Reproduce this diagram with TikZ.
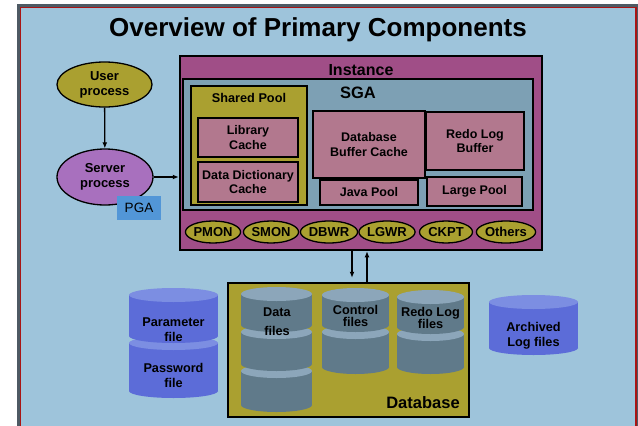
\documentclass[tikz,border=0pt]{standalone}
\usepackage{fontspec}
\setmainfont{Liberation Sans}
\usepackage{xcolor}
\definecolor{Sky}{RGB}{158,196,219}
\definecolor{Frame}{RGB}{78,90,100}
\definecolor{Rim}{RGB}{170,20,20}
\definecolor{Plum}{RGB}{160,78,135}
\definecolor{Slate}{RGB}{125,160,180}
\definecolor{Olive}{RGB}{170,160,48}
\definecolor{Rose}{RGB}{178,120,142}
\definecolor{Lilac}{RGB}{168,112,190}
\definecolor{PgaBlue}{RGB}{82,150,215}
\definecolor{GreyBody}{RGB}{96,122,138}
\definecolor{GreyTop}{RGB}{140,166,186}
\definecolor{BlueBody}{RGB}{92,108,216}
\definecolor{BlueTop}{RGB}{124,142,226}
\usepackage{tikz}
\usetikzlibrary{shapes}
\usetikzlibrary{arrows.meta}
\tikzstyle{Area}=[draw=black,line width=2.5pt,inner sep=0pt]
\tikzstyle{Buffer}=[draw=black,line width=2.2pt,fill=Rose,inner sep=0pt,
align=center,font=\bfseries\fontsize{12.5}{14.5}\selectfont]
\tikzstyle{Proc}=[ellipse,draw=black,line width=1.3pt,fill=Olive,inner sep=0pt,
minimum width=53pt,minimum height=22pt,font=\bfseries\fontsize{13}{14}\selectfont]
\tikzstyle{Client}=[ellipse,draw=black,line width=1.3pt,inner sep=0pt,
align=center,font=\bfseries\fontsize{13}{15}\selectfont]
\tikzstyle{Link}=[draw=black,line width=1.3pt,-{Latex[length=6pt,width=5pt]}]
\tikzstyle{Lbl}=[inner sep=0pt,align=center,font=\bfseries\fontsize{12.7}{15}\selectfont]
\tikzstyle{Big}=[inner sep=0pt,font=\bfseries\fontsize{16.5}{18}\selectfont]
% one segment of a disk stack: centre x, top y, bottom y, half width, colour
\newcommand{\Drum}[5]{%
  \fill[#5Body] (#1,#3-7) ellipse (#4pt and 7pt);
  \fill[#5Body] (#1-#4,#2+7) rectangle (#1+#4,#3-7);
  \fill[#5Top] (#1,#2+7) ellipse (#4pt and 7pt);}

\begin{document}
\begin{tikzpicture}[x=1pt,y=-1pt]
        \useasboundingbox (0,0) rectangle (638,426);
        \fill[Frame] (17,4) rectangle (638,426);
        \fill[Sky] (21,8) rectangle (635.5,426);
        \draw[Rim,line width=1.2pt] (20.6,430) -- (20.6,7.6) -- (636,7.6) -- (636,430);
        \node[inner sep=0pt,anchor=base,font=\bfseries\fontsize{26}{30}\selectfont]
            (title) at (318,36) {Overview of Primary Components};
        % instance and SGA
        \node[Area,fill=Plum,minimum width=362pt,minimum height=194pt]
            (inst) at (361,153) {};
        \node[inner sep=0pt,font=\bfseries\fontsize{16}{18}\selectfont]
            (instlbl) at (361,70) {Instance};
        \node[Area,fill=Slate,minimum width=350pt,minimum height=131pt]
            (sga) at (358,144.5) {};
        \node[Big] (sgalbl) at (358,93) {SGA};
        \node[Area,line width=2pt,fill=Olive,minimum width=116pt,minimum height=119pt]
            (shared) at (249,145.5) {};
        \node[Lbl] (sharedlbl) at (249,98) {Shared Pool};
        \node[Buffer,minimum width=100pt,minimum height=39pt]
            (lib) at (248,137.5) {Library\\Cache};
        \node[Buffer,minimum width=100pt,minimum height=40pt]
            (dict) at (248,182) {Data Dictionary\\Cache};
        \node[Buffer,minimum width=112pt,minimum height=67pt]
            (dbbuf) at (369,144.5) {Database\\Buffer Cache};
        \node[Buffer,minimum width=98pt,minimum height=58pt]
            (redobuf) at (475,141) {Redo Log\\Buffer};
        \node[Buffer,minimum width=98pt,minimum height=25pt]
            (java) at (369,192.5) {Java Pool};
        \node[Buffer,minimum width=95pt,minimum height=29pt]
            (large) at (474.5,191.5) {Large Pool};
        % background processes
        \node[Proc] (pmon) at (213,232) {PMON};
        \node[Proc] (smon) at (271,232) {SMON};
        \node[Proc] (dbwr) at (329,232) {DBWR};
        \node[Proc] (lgwr) at (387,232) {LGWR};
        \node[Proc] (ckpt) at (446,232) {CKPT};
        \node[Proc] (others) at (506,232) {Others};
        % user side
        \node[Client,fill=Olive,minimum width=95pt,minimum height=45pt]
            (user) at (104.5,84.5) {User\\process};
        \node[Client,fill=Lilac,minimum width=96pt,minimum height=56pt]
            (server) at (105,177) {Server\\process};
        \node[fill=PgaBlue,inner sep=0pt,minimum width=44pt,minimum height=24pt,
            font=\fontsize{13.5}{15}\selectfont] (pga) at (139,208) {PGA};
        \draw[Link](user)--(server);
        \draw[Link](server)--(server -| inst.west);
        % database
        \node[Area,fill=Olive,minimum width=241pt,minimum height=134pt]
            (db) at (348.5,350) {};
        \node[Big] (dblbl) at (423,403) {Database};
        \coordinate (rd) at (352,0);
        \coordinate (wr) at (367,0);
        \draw[Link,shorten >=4pt](inst.south -| rd)--(db.north -| rd);
        \draw[Link](db.north -| wr)--(inst.south -| wr);
        \Drum{276.5}{364}{412}{35.5}{Grey}
        \Drum{276.5}{325}{371}{35.5}{Grey}
        \Drum{276.5}{287}{332}{35.5}{Grey}
        \Drum{355.5}{325}{374}{33.5}{Grey}
        \Drum{355.5}{288}{332}{33.5}{Grey}
        \Drum{430.5}{327}{374}{33.5}{Grey}
        \Drum{430.5}{290}{334}{33.5}{Grey}
        \node[Lbl,font=\bfseries\fontsize{12.7}{19}\selectfont]
            (datalbl) at (277,322) {Data\\files};
        \node[Lbl,font=\bfseries\fontsize{12.7}{12.5}\selectfont]
            (ctllbl) at (355.5,316) {Control\\files};
        \node[Lbl,font=\bfseries\fontsize{12.7}{12.5}\selectfont]
            (redolbl) at (430.5,318) {Redo Log\\files};
        % files outside the database
        \Drum{173.5}{336}{398}{44.5}{Blue}
        \Drum{173.5}{288}{343}{44.5}{Blue}
        \node[Lbl] (parlbl) at (173.5,330) {Parameter\\file};
        \node[Lbl] (pwdlbl) at (173.5,375) {Password\\file};
        \Drum{533.5}{295}{355}{44.5}{Blue}
        \node[Lbl] (arclbl) at (533.5,336) {Archived\\Log files};
\end{tikzpicture}
\end{document}
